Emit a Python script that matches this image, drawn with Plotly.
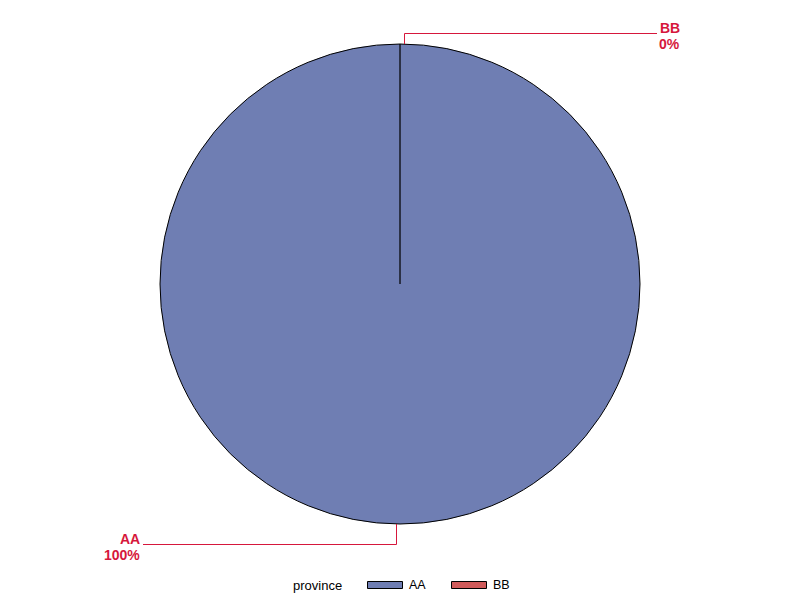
import math
import plotly.graph_objects as go

# Data
provinces = ["AA", "BB"]
values = [100, 0]
slice_colors = ["#6F7EB3", "#D05B5B"]
legend_title = "province"

W, H = 800, 600
cx, cy, r = 400, 284, 240  # pie geometry in pixels
label_color = "#D6173C"
FONT = "Liberation Sans, Arial, sans-serif"

fig = go.Figure()
fig.add_trace(go.Pie(
    labels=provinces, values=values, sort=False, direction="clockwise",
    rotation=0, textinfo="none", hoverinfo="label+percent",
    marker=dict(colors=slice_colors, line=dict(color="black", width=[1, 0.75])),
    domain=dict(x=[(cx - r) / W, (cx + r) / W], y=[1 - (cy + r) / H, 1 - (cy - r) / H]),
    showlegend=False,
))

px = lambda x: x / W
py = lambda y: 1 - y / H

# outside labels with leader lines, computed from the data
total = sum(values)
cum = 0
shapes = []
annotations = []
for name, v in zip(provinces, values):
    frac = v / total
    mid = (cum + frac / 2) * 2 * math.pi
    cum += frac
    top = math.cos(mid) >= 0
    right = top
    ex = cx + r * math.sin(mid) + (4.5 if right else -3.5)
    ey = cy - r * math.cos(mid)
    elbow_y = (ey - 10.5) if top else (ey + 20.5)
    end_x = 657 if right else 143
    shapes.append(dict(type="path", xref="paper", yref="paper",
                       path=f"M {px(ex)} {py(ey)} L {px(ex)} {py(elbow_y)} L {px(end_x)} {py(elbow_y)}",
                       line=dict(color=label_color, width=1)))
    pct = f"{frac * 100:.0f}%"
    text_right = 682 if right else 142
    annotations.append(dict(xref="paper", yref="paper", x=px(text_right), y=py(elbow_y - 5.5),
                            xanchor="right", yanchor="middle", align="right", showarrow=False,
                            text=f"<b>{name}</b>", font=dict(color=label_color, size=14, family=FONT)))
    annotations.append(dict(xref="paper", yref="paper", x=px(text_right), y=py(elbow_y + 10.5),
                            xanchor="right", yanchor="middle", align="right", showarrow=False,
                            text=f"<b>{pct}</b>", font=dict(color=label_color, size=14, family=FONT)))

# legend (title + wide swatches), built from the data
leg_y = 585
annotations.append(dict(xref="paper", yref="paper", x=px(291), y=py(leg_y), xanchor="left",
                        yanchor="middle", showarrow=False, text=legend_title,
                        font=dict(size=13, family=FONT, color="black")))
for i, (name, col) in enumerate(zip(provinces, slice_colors)):
    x0 = 367.5 + i * 84
    shapes.append(dict(type="rect", xref="paper", yref="paper",
                       x0=px(x0), x1=px(x0 + 35), y0=py(leg_y - 3.5), y1=py(leg_y + 3.5),
                       fillcolor=col, line=dict(color="black", width=1)))
    annotations.append(dict(xref="paper", yref="paper", x=px(x0 + 39), y=py(leg_y), xanchor="left",
                            yanchor="middle", showarrow=False, text=name,
                            font=dict(size=12.5, family=FONT, color="black")))

fig.update_layout(
    width=W, height=H,
    margin=dict(l=0, r=0, t=0, b=0),
    paper_bgcolor="white", plot_bgcolor="white",
    font=dict(family=FONT, size=12, color="black"),
    shapes=shapes, annotations=annotations,
    showlegend=False,
)

fig.write_html("out.html", config={"displayModeBar": False},
               post_script="document.body.style.margin='0';")
